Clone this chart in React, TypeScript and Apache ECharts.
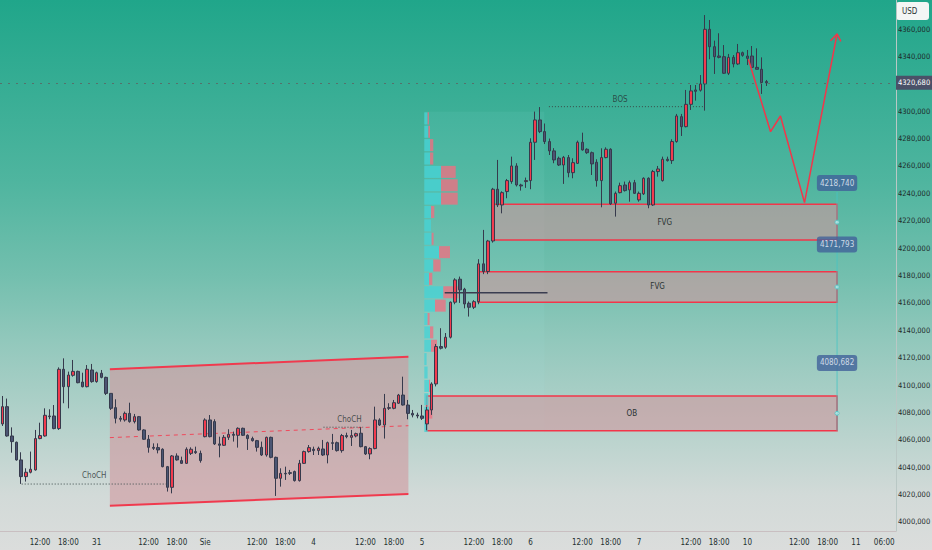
import React, { useEffect, useRef } from "react";
import * as echarts from "echarts";

// hourly slots on the time axis (23 per trading day)
const slotCount = 190;
const xTickSlots = [8, 14, 20, 31, 37, 43, 54, 60, 66, 77, 83, 89, 100, 106, 112, 123, 129, 135, 146, 152, 158, 169, 175, 181, 187];
const xTickLabels = ["12:00", "18:00", "31", "12:00", "18:00", "Sie", "12:00", "18:00", "4", "12:00", "18:00", "5", "12:00", "18:00", "6", "12:00", "18:00", "7", "12:00", "18:00", "10", "12:00", "18:00", "11", "06:00"];

const priceTicks = [4000, 4020, 4040, 4060, 4080, 4100, 4120, 4140, 4160, 4180, 4200, 4220, 4240, 4260, 4280, 4300, 4320, 4340, 4360];
const priceMin = 3993.4;
const priceMax = 4381.2;
const lastPrice = 4320.68;

// [open, close, low, high]
const candles = [
  [4071.6, 4084.2, 4070.1, 4092.0], [4084.2, 4062.8, 4062.3, 4090.1], [4062.8, 4058.7, 4050.6, 4069.1], [4058.2, 4045.3, 4044.8, 4058.7],
  [4045.3, 4033.1, 4027.8, 4050.9], [4033.1, 4036.3, 4029.5, 4039.2], [4036.3, 4038.5, 4035.5, 4051.4], [4038.0, 4060.9, 4037.5, 4067.2],
  [4060.9, 4063.1, 4060.4, 4072.5], [4062.8, 4077.9, 4062.3, 4083.0], [4076.9, 4077.4, 4075.0, 4082.3], [4077.4, 4068.2, 4067.7, 4085.4],
  [4068.2, 4111.5, 4067.2, 4112.9], [4111.5, 4098.8, 4086.7, 4119.5], [4098.8, 4107.3, 4083.0, 4109.8], [4107.1, 4110.0, 4106.1, 4118.3],
  [4110.0, 4101.7, 4101.3, 4110.5], [4102.2, 4098.8, 4098.3, 4109.0], [4098.8, 4111.5, 4098.3, 4114.6], [4111.0, 4102.5, 4101.7, 4115.4],
  [4102.5, 4109.0, 4101.7, 4109.8], [4108.6, 4105.6, 4104.9, 4111.0], [4105.6, 4093.9, 4092.7, 4106.1], [4093.9, 4083.0, 4081.8, 4093.9],
  [4083.5, 4075.7, 4072.0, 4089.6], [4075.7, 4075.0, 4073.3, 4077.4], [4074.5, 4079.3, 4073.3, 4080.6], [4079.3, 4073.3, 4072.5, 4087.1],
  [4073.3, 4076.9, 4072.0, 4078.9], [4076.9, 4067.2, 4066.7, 4077.4], [4067.2, 4060.4, 4059.9, 4067.7], [4060.4, 4054.5, 4050.6, 4063.5],
  [4054.5, 4053.8, 4052.6, 4057.4], [4054.3, 4052.6, 4050.1, 4057.4], [4053.1, 4040.4, 4039.9, 4053.8], [4040.4, 4025.3, 4022.2, 4040.9],
  [4025.3, 4048.2, 4020.9, 4048.9], [4048.2, 4045.3, 4044.8, 4050.1], [4044.8, 4042.8, 4042.4, 4047.7], [4042.8, 4053.1, 4042.4, 4054.5],
  [4050.1, 4053.1, 4048.9, 4054.5], [4051.4, 4050.6, 4049.7, 4055.0], [4050.1, 4044.8, 4043.3, 4052.1], [4062.3, 4074.5, 4061.8, 4075.7],
  [4074.5, 4062.3, 4061.8, 4078.1], [4073.3, 4057.0, 4056.2, 4075.0], [4057.0, 4056.0, 4047.2, 4062.3], [4056.0, 4061.8, 4055.5, 4063.5],
  [4061.8, 4064.0, 4059.9, 4067.7], [4064.0, 4063.3, 4058.7, 4066.0], [4063.3, 4068.4, 4054.3, 4069.1], [4068.4, 4063.3, 4062.8, 4068.9],
  [4063.3, 4060.9, 4052.6, 4064.0], [4060.9, 4059.4, 4058.7, 4062.3], [4059.4, 4054.5, 4051.4, 4059.9], [4054.5, 4048.9, 4048.2, 4058.7],
  [4048.9, 4061.8, 4047.7, 4062.3], [4061.8, 4047.2, 4046.5, 4062.3], [4047.2, 4031.9, 4019.0, 4047.7], [4031.9, 4035.5, 4025.8, 4039.2],
  [4035.5, 4035.1, 4030.7, 4040.4], [4036.0, 4035.5, 4034.3, 4038.0], [4036.8, 4030.2, 4029.5, 4037.5], [4030.2, 4042.8, 4029.5, 4045.3],
  [4042.8, 4051.4, 4042.4, 4052.1], [4051.4, 4054.3, 4050.6, 4056.2], [4053.1, 4052.1, 4048.9, 4055.0], [4052.1, 4053.8, 4048.9, 4055.0],
  [4053.3, 4048.9, 4048.2, 4059.9], [4048.9, 4057.9, 4042.8, 4058.7], [4057.9, 4057.4, 4052.6, 4064.3], [4057.9, 4052.1, 4051.4, 4058.7],
  [4052.1, 4063.1, 4050.6, 4064.3], [4063.1, 4062.3, 4061.1, 4065.2], [4061.8, 4063.1, 4055.5, 4067.2], [4062.8, 4064.5, 4061.8, 4065.2],
  [4064.8, 4055.0, 4054.5, 4069.1], [4055.0, 4049.7, 4048.9, 4055.5], [4049.7, 4053.6, 4045.8, 4054.5], [4053.6, 4074.5, 4053.1, 4084.2],
  [4074.5, 4070.8, 4070.1, 4075.7], [4070.8, 4083.0, 4060.9, 4093.5], [4083.0, 4083.5, 4081.8, 4086.7], [4083.0, 4087.1, 4082.3, 4089.1],
  [4086.7, 4092.7, 4086.2, 4093.5], [4092.7, 4085.4, 4085.0, 4106.1], [4085.4, 4079.3, 4075.0, 4089.1], [4079.3, 4078.1, 4076.4, 4081.8],
  [4078.1, 4077.4, 4075.7, 4079.8], [4077.4, 4075.7, 4074.5, 4085.5], [4071.6, 4081.8, 4067.0, 4084.0], [4081.8, 4100.8, 4078.2, 4102.0],
  [4100.8, 4128.1, 4099.0, 4130.0], [4128.1, 4126.9, 4126.0, 4141.5], [4127.6, 4134.9, 4126.5, 4138.0], [4134.9, 4160.5, 4134.0, 4161.0],
  [4160.5, 4176.8, 4159.0, 4178.0], [4177.3, 4169.5, 4160.0, 4179.2], [4170.0, 4159.2, 4156.0, 4171.0], [4159.7, 4156.8, 4150.0, 4161.0],
  [4156.8, 4160.9, 4155.5, 4162.0], [4160.9, 4188.5, 4159.0, 4191.9], [4188.5, 4182.9, 4181.0, 4213.3], [4182.9, 4205.2, 4181.0, 4206.0],
  [4205.2, 4243.0, 4204.0, 4244.0], [4243.0, 4231.5, 4230.0, 4264.4], [4231.5, 4240.5, 4225.4, 4241.5], [4241.3, 4249.3, 4236.4, 4250.5],
  [4248.6, 4260.0, 4247.0, 4266.8], [4260.0, 4246.1, 4245.0, 4262.0], [4246.1, 4245.4, 4242.0, 4247.0], [4248.6, 4249.3, 4244.0, 4251.5],
  [4249.3, 4277.3, 4243.0, 4280.2], [4277.3, 4293.6, 4264.4, 4299.7], [4293.6, 4285.1, 4284.0, 4303.0], [4285.1, 4277.8, 4276.0, 4291.0],
  [4277.8, 4271.0, 4268.0, 4280.0], [4271.0, 4264.4, 4262.0, 4273.0], [4265.6, 4260.7, 4260.0, 4266.8], [4260.7, 4266.3, 4246.9, 4267.3],
  [4266.1, 4255.1, 4251.7, 4268.0], [4255.1, 4262.4, 4251.0, 4265.6], [4261.9, 4277.3, 4261.5, 4278.5], [4277.3, 4271.7, 4271.2, 4284.3],
  [4272.2, 4269.7, 4268.8, 4272.9], [4269.7, 4261.5, 4253.4, 4270.5], [4262.7, 4249.3, 4244.9, 4264.9], [4249.3, 4266.1, 4229.8, 4272.9],
  [4266.1, 4272.2, 4265.6, 4273.6], [4272.2, 4232.3, 4231.5, 4272.9], [4232.8, 4240.0, 4223.0, 4241.3], [4240.5, 4245.6, 4240.0, 4247.8],
  [4246.1, 4242.0, 4241.3, 4248.6], [4242.5, 4247.8, 4233.9, 4249.3], [4247.8, 4240.0, 4239.6, 4249.8], [4235.2, 4240.0, 4233.9, 4241.3],
  [4239.6, 4251.0, 4238.8, 4251.7], [4251.0, 4231.5, 4229.1, 4251.7], [4231.5, 4255.9, 4230.8, 4257.1], [4255.9, 4257.8, 4252.2, 4260.0],
  [4249.3, 4264.9, 4248.6, 4266.8], [4264.9, 4263.9, 4263.2, 4266.8], [4263.9, 4277.8, 4261.5, 4279.5], [4277.8, 4296.5, 4277.0, 4298.0],
  [4296.0, 4288.7, 4281.9, 4298.0], [4288.7, 4305.0, 4288.2, 4315.5], [4305.0, 4314.8, 4300.9, 4319.1], [4315.5, 4314.5, 4307.7, 4319.1],
  [4315.3, 4319.9, 4314.3, 4326.4], [4319.9, 4359.8, 4300.4, 4370.2], [4359.8, 4347.1, 4337.9, 4366.6], [4347.1, 4339.8, 4327.2, 4351.5],
  [4340.3, 4339.3, 4338.6, 4356.9], [4339.8, 4327.7, 4327.2, 4348.3], [4327.7, 4339.3, 4326.4, 4341.8], [4339.3, 4334.5, 4332.0, 4341.0],
  [4334.5, 4342.7, 4333.7, 4349.1], [4342.7, 4340.8, 4339.8, 4343.5], [4340.3, 4338.6, 4333.7, 4344.7], [4340.3, 4332.0, 4331.3, 4347.6],
  [4332.0, 4330.6, 4330.6, 4345.9], [4330.6, 4320.9, 4312.6, 4339.3], [4321.6, 4320.7, 4318.4, 4322.8],
];

// rising channel [slot, price]
const channelTop = [[22.8, 4111.5], [86.1, 4120.7]];
const channelMid = [[22.8, 4061.6], [86.1, 4070.3]];
const channelBottom = [[22.8, 4011.9], [86.1, 4020.4]];

// zones: [fromSlot, topPrice, toSlot, bottomPrice]
const zoneNames = ["FVG", "FVG", "OB"];
const zoneBounds = [
  [103.9, 4232.0, 177.0, 4205.9],
  [100.9, 4182.8, 177.0, 4160.4],
  [89.97, 4092.0, 177.0, 4066.7],
];

const priceTagValues = [4218.74, 4171.793, 4080.682];
const priceTagSpots = [[177, 4247.5], [177, 4202.6], [177, 4116.1]];

const projection = [[158.2, 4337.9], [162.9, 4285.0], [165.0, 4296.5], [170.1, 4233.2], [177.0, 4356.4]];
const arrowHead = [[175.6, 4351.5], [177.0, 4356.4], [177.8, 4351.0]];

const bosLine = [[115.9, 4303.3], [149.0, 4303.3]];
const chochLine1 = [[4.1, 4027.7], [34.8, 4027.7]];
const chochLine2 = [[68.1, 4069.2], [76.5, 4069.2]];
const pocLine = [[93.8, 4167.4], [115.6, 4167.4]];
const zoneEdge = [[177, 4241.0], [177, 4066.7]];

const noteTexts = ["BOS", "ChoCH", "ChoCH"];
const noteSpots = [[131, 4308.5], [19.5, 4033.6], [73.6, 4074.5]];

// volume profile rows, top to bottom
const profileUp = [3.3, 4, 5.7, 5.7, 16.7, 16.7, 16.7, 6.7, 6.7, 7.3, 14.7, 9, 4.7, 19, 10.7, 3.3, 5.7, 6.7, 2.3, 3.3, 4.7, 4, 4.7, 3.3];
const profileDown = [1.3, 1.7, 3.3, 3.3, 14.7, 16.7, 16.7, 3.3, 0, 2, 11, 7.3, 3.3, 15, 10.7, 2, 3.3, 6, 0, 0, 1, 0, 3.3, 0];

const fmt = (v: number) => v.toFixed(3).replace(".", ",");
const font = "'Liberation Sans Narrow', 'DejaVu Sans Condensed', 'Liberation Sans', sans-serif";

const categories: string[] = [];
for (let i = 0; i < slotCount; i++) categories.push("");
xTickSlots.forEach((s, i) => (categories[s] = xTickLabels[i]));

const lineSeries = (data: number[][], color: string, width: number, type: any = "solid") => ({
  type: "line",
  xAxisIndex: 1,
  yAxisIndex: 0,
  data,
  symbol: "none",
  silent: true,
  z: 4,
  lineStyle: { color, width, type },
});

const App: React.FC = () => {
  const chartRef = useRef<HTMLDivElement>(null);

  useEffect(() => {
    document.body.style.margin = "0";
    const chart = echarts.init(chartRef.current, null, { renderer: "svg" });

    const option: any = {
      animation: false,
      backgroundColor: {
        type: "linear",
        x: 0, y: 0, x2: 0, y2: 1,
        colorStops: [
          { offset: 0, color: "#20a68a" },
          { offset: 0.33, color: "#4fb59f" },
          { offset: 0.5, color: "#73bfae" },
          { offset: 0.62, color: "#92c8bc" },
          { offset: 0.9, color: "#d2dad8" },
          { offset: 1, color: "#dbdddc" },
        ],
      },
      textStyle: { fontFamily: font },
      grid: [
        { left: 0, right: 36, top: 0, bottom: 19, outerBoundsMode: "none", containLabel: false },
        {
          left: 424.3, top: 111.7, width: 120, height: 321,
          show: true, backgroundColor: "rgba(170,240,235,0.07)", borderWidth: 0,
          outerBoundsMode: "none", containLabel: false,
        },
      ],
      xAxis: [
        {
          type: "category",
          gridIndex: 0,
          data: categories,
          boundaryGap: true,
          axisLine: { show: true, lineStyle: { color: "#c9bfc1" } },
          axisTick: { show: false },
          splitLine: { show: false },
          axisLabel: {
            interval: (_i: number, v: string) => v !== "",
            color: "#243030",
            fontSize: 8,
            margin: 7,
            fontFamily: font,
          },
        },
        { type: "value", gridIndex: 0, min: -0.5, max: slotCount - 0.5, show: false },
        { type: "value", gridIndex: 1, min: 0, max: 120, show: false },
      ],
      yAxis: [
        {
          type: "value",
          gridIndex: 0,
          position: "right",
          min: priceMin,
          max: priceMax,
          splitLine: { show: false },
          axisTick: { show: false },
          axisLine: { show: true, onZero: false, lineStyle: { color: "#b9c8c5" } },
          axisLabel: {
            customValues: priceTicks,
            formatter: (v: number) => fmt(v),
            color: "#1d2a2a",
            fontSize: 7.5,
            margin: 2,
            fontFamily: font,
          },
        },
        {
          type: "category",
          gridIndex: 1,
          inverse: true,
          data: profileUp.map((_v, i) => String(i)),
          show: false,
        },
      ],
      graphic: [
        {
          type: "group",
          x: 896,
          y: 2,
          children: [
            { type: "rect", shape: { x: 0, y: 0, width: 33, height: 18, r: 3 }, style: { fill: "#f3f6f5" } },
            { type: "text", x: 6, y: 9, style: { text: "USD", fill: "#2a3434", font: `8px ${font}`, verticalAlign: "middle" } },
          ],
        },
      ],
      series: [
        // rising channel
        {
          type: "custom",
          xAxisIndex: 1,
          yAxisIndex: 0,
          data: [[channelTop[0][0], channelTop[0][1]]],
          silent: true,
          z: 1,
          renderItem: (_p: any, api: any) => {
            const t0 = api.coord(channelTop[0]);
            const t1 = api.coord(channelTop[1]);
            const m0 = api.coord(channelMid[0]);
            const m1 = api.coord(channelMid[1]);
            const b0 = api.coord(channelBottom[0]);
            const b1 = api.coord(channelBottom[1]);
            return {
              type: "group",
              children: [
                { type: "polygon", shape: { points: [t0, t1, b1, b0] }, style: { fill: "rgba(208,152,158,0.6)" } },
                { type: "line", shape: { x1: t0[0], y1: t0[1], x2: t1[0], y2: t1[1] }, style: { stroke: "#f03a4e", lineWidth: 2 } },
                { type: "line", shape: { x1: b0[0], y1: b0[1], x2: b1[0], y2: b1[1] }, style: { stroke: "#f03a4e", lineWidth: 2 } },
                { type: "line", shape: { x1: m0[0], y1: m0[1], x2: m1[0], y2: m1[1] }, style: { stroke: "#ef4a5c", lineWidth: 1, lineDash: [4, 4] } },
              ],
            };
          },
        },
        // FVG / OB zones
        {
          type: "custom",
          xAxisIndex: 1,
          yAxisIndex: 0,
          data: zoneBounds,
          silent: true,
          z: 1,
          renderItem: (p: any, api: any) => {
            const a = api.coord([api.value(0), api.value(1)]);
            const b = api.coord([api.value(2), api.value(3)]);
            const midY = (a[1] + b[1]) / 2;
            return {
              type: "group",
              children: [
                { type: "rect", shape: { x: a[0], y: a[1], width: b[0] - a[0], height: b[1] - a[1] }, style: { fill: "rgba(208,150,156,0.58)", stroke: "#f2364a", lineWidth: 1.5 } },
                { type: "text", x: (a[0] + b[0]) / 2, y: midY, style: { text: zoneNames[p.dataIndex], fill: "#2a3333", font: `8px ${font}`, align: "center", verticalAlign: "middle" } },
                { type: "circle", shape: { cx: b[0], cy: midY, r: 2 }, style: { fill: "#e8efee", stroke: "#55c4c4", lineWidth: 1 } },
              ],
            };
          },
        },
        // volume profile
        {
          type: "bar",
          xAxisIndex: 2,
          yAxisIndex: 1,
          stack: "vp",
          data: profileUp,
          barCategoryGap: "10%",
          silent: true,
          z: 2,
          itemStyle: { color: "rgba(70,210,212,0.8)" },
        },
        {
          type: "bar",
          xAxisIndex: 2,
          yAxisIndex: 1,
          stack: "vp",
          data: profileDown,
          barCategoryGap: "10%",
          silent: true,
          z: 2,
          itemStyle: { color: "rgba(236,112,130,0.8)" },
        },
        {
          type: "candlestick",
          xAxisIndex: 0,
          yAxisIndex: 0,
          data: candles,
          barWidth: 3,
          z: 3,
          itemStyle: {
            color: "#f23b4e",
            color0: "#4b5573",
            borderColor: "#363a4c",
            borderColor0: "#363a4c",
            borderWidth: 1,
          },
          markLine: {
            silent: true,
            symbol: ["none", "none"],
            data: [{ yAxis: lastPrice }],
            lineStyle: { color: "#56706b", width: 1, type: [2, 6] },
            label: {
              position: "end",
              distance: 0,
              formatter: () => fmt(lastPrice),
              backgroundColor: "#4a5168",
              color: "#ffffff",
              padding: [3, 2],
              fontSize: 7.5,
              fontFamily: font,
            },
          },
        },
        lineSeries(pocLine, "#3a3d50", 1.5),
        lineSeries(bosLine, "#3b4a48", 1, [1, 2]),
        lineSeries(chochLine1, "#3b4a48", 1, [1, 2]),
        lineSeries(chochLine2, "#3b4a48", 1, [1, 2]),
        lineSeries(zoneEdge, "rgba(70,196,196,0.8)", 1),
        lineSeries(projection, "#f2364a", 1.5),
        lineSeries(arrowHead, "#f2364a", 1.5),
        // notes
        {
          type: "scatter",
          xAxisIndex: 1,
          yAxisIndex: 0,
          symbolSize: 1,
          silent: true,
          z: 6,
          itemStyle: { color: "rgba(0,0,0,0)" },
          data: noteSpots.map((s, i) => ({ value: s, name: noteTexts[i] })),
          label: { show: true, position: "inside", formatter: "{b}", color: "#263232", fontSize: 8, fontFamily: font },
        },
        // price tags
        {
          type: "scatter",
          xAxisIndex: 1,
          yAxisIndex: 0,
          symbolSize: 1,
          silent: true,
          z: 6,
          itemStyle: { color: "rgba(0,0,0,0)" },
          data: priceTagSpots.map((s, i) => ({ value: s, name: fmt(priceTagValues[i]) })),
          label: {
            show: true,
            position: "inside",
            formatter: "{b}",
            color: "#eef3fb",
            fontSize: 8,
            fontFamily: font,
            backgroundColor: "#41619a",
            padding: [4, 3],
            borderRadius: 3,
          },
        },
      ],
    };

    chart.setOption(option);
    return () => {
      chart.dispose();
    };
  }, []);

  return <div ref={chartRef} style={{ width: 932, height: 550 }} />;
};

export default App;
